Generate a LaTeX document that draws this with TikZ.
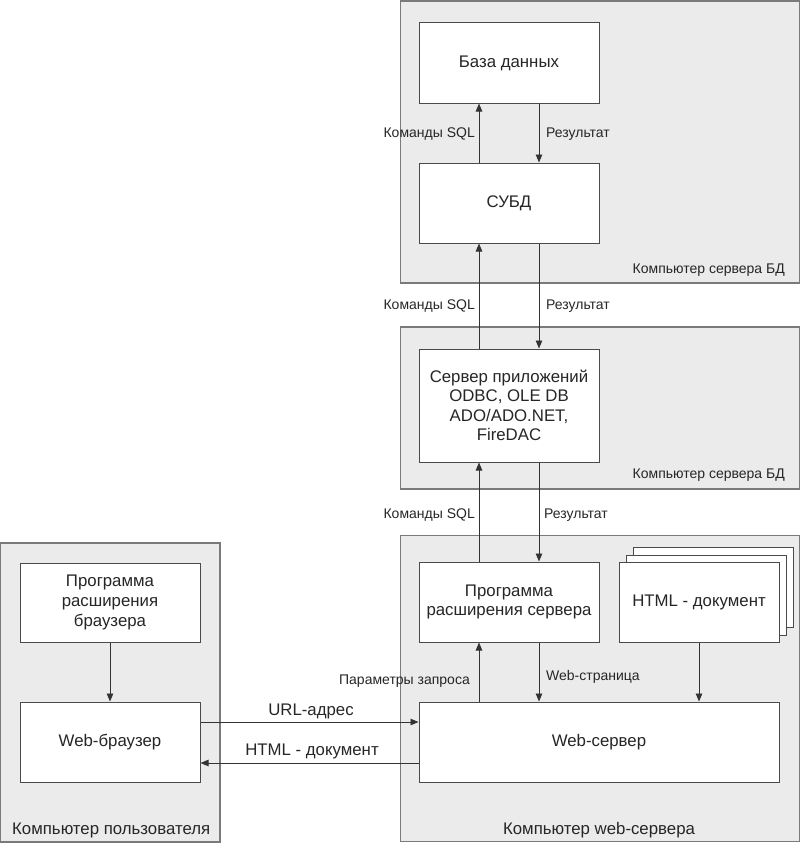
\documentclass[tikz,border=0pt]{standalone}
\usepackage{fontspec}
\setmainfont{Liberation Sans}
\usetikzlibrary{arrows.meta}
\definecolor{contfill}{HTML}{EBEBEB}
\definecolor{contline}{HTML}{7A7A7A}
\definecolor{boxline}{HTML}{4A4A4A}
\tikzset{
  cont/.style={draw=contline, fill=contfill, line width=1.2pt, rectangle, inner sep=0pt},
  box/.style={draw=boxline, fill=white, line width=1pt, rectangle, inner sep=0pt,
    align=center, font=\fontsize{16.8}{19.5}\selectfont, text=black!85},
  arr/.style={draw=black!80, line width=0.9pt, -{Triangle[length=8pt,width=6.5pt]}},
  lbl/.style={font=\fontsize{14}{16}\selectfont, text=black!85, inner sep=0pt},
  clbl/.style={font=\fontsize{14}{16}\selectfont, text=black!85, inner sep=0pt},
  blbl/.style={font=\fontsize{16.8}{19}\selectfont, text=black!85, inner sep=0pt},
}
\begin{document}
\begin{tikzpicture}[x=1pt,y=-1pt]
\useasboundingbox (0,0) rectangle (800,843);
% containers
\node[cont, minimum width=399pt, minimum height=282pt] (c1) at (600,142) {};
\node[cont, minimum width=399pt, minimum height=162pt] (c2) at (600,408) {};
\node[cont, minimum width=399pt, minimum height=306pt] (c3) at (600,688.5) {};
\node[cont, minimum width=220pt, minimum height=299pt] (c4) at (110,692.5) {};
% container labels
\node[clbl, anchor=base east] (l1) at (785,273) {Компьютер сервера БД};
\node[clbl, anchor=base east] (l2) at (785,478) {Компьютер сервера БД};
\node[blbl, anchor=base] (l3) at (599,834) {Компьютер web-сервера};
\node[blbl, anchor=base west] (l4) at (12,834) {Компьютер пользователя};
% boxes
\node[box, minimum width=180pt, minimum height=80pt] (db) at (509,63) {База данных};
\node[box, minimum width=180pt, minimum height=80pt] (dbms) at (509,203) {СУБД};
\node[box, minimum width=180pt, minimum height=113pt] (app) at (509,405.5) {Сервер приложений\\ODBC, OLE DB\\ADO/ADO.NET,\\FireDAC};
\node[box, minimum width=180pt, minimum height=80pt] (ext) at (509,602) {Программа\\расширения сервера};
\node[box, minimum width=160pt, minimum height=80pt] (h3) at (713,587) {};
\node[box, minimum width=160pt, minimum height=80pt] (h2) at (706,595) {};
\node[box, minimum width=160pt, minimum height=80pt] (html) at (699,602) {HTML - документ};
\node[box, minimum width=360pt, minimum height=80pt] (ws) at (599,742) {Web-сервер};
\node[box, minimum width=180pt, minimum height=79pt, font=\fontsize{16.8}{20}\selectfont] (bext) at (110,602.5) {Программа\\расширения\\браузера};
\node[box, minimum width=180pt, minimum height=80pt] (wb) at (110,742) {Web-браузер};
% columns
\coordinate (up) at (479,0);
\coordinate (dn) at (539,0);
\coordinate (hx) at (699,0);
\coordinate (bx) at (110,0);
\coordinate (ry) at (0,722);
\coordinate (ly) at (0,763);
% arrows
\draw[arr] (dbms.north -| up) -- (db.south -| up);
\draw[arr] (db.south -| dn) -- (dbms.north -| dn);
\draw[arr] (app.north -| up) -- (dbms.south -| up);
\draw[arr] (dbms.south -| dn) -- (app.north -| dn);
\draw[arr] (ext.north -| up) -- (app.south -| up);
\draw[arr] (app.south -| dn) -- (ext.north -| dn);
\draw[arr] (ws.north -| up) -- (ext.south -| up);
\draw[arr] (ext.south -| dn) -- (ws.north -| dn);
\draw[arr] (html.south -| hx) -- (ws.north -| hx);
\draw[arr] (bext.south -| bx) -- (wb.north -| bx);
\draw[arr] (wb.east |- ry) -- (ws.west |- ry);
\draw[arr] (ws.west |- ly) -- (wb.east |- ly);
% arrow labels
\node[lbl, anchor=base east] (a1) at (475,137) {Команды SQL};
\node[lbl, anchor=base west] (a2) at (546,137) {Результат};
\node[lbl, anchor=base east] (a3) at (475,309) {Команды SQL};
\node[lbl, anchor=base west] (a4) at (546,309) {Результат};
\node[lbl, anchor=base east] (a5) at (475,518) {Команды SQL};
\node[lbl, anchor=base west] (a6) at (544,518) {Результат};
\node[lbl, anchor=base east] (a7) at (470,684) {Параметры запроса};
\node[lbl, anchor=base west] (a8) at (546,680) {Web-страница};
\node[blbl, anchor=base] (a9) at (311,715) {URL-адрес};
\node[blbl, anchor=base] (a10) at (312,755) {HTML - документ};
\end{tikzpicture}
\end{document}
